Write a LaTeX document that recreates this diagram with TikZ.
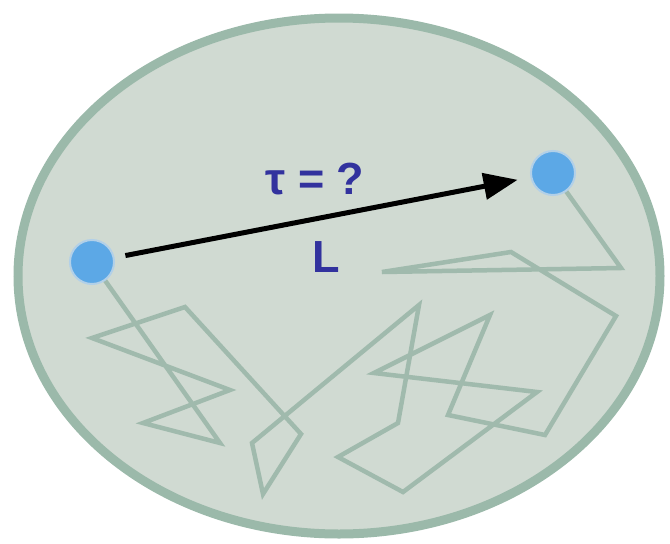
\documentclass[tikz,border=0pt]{standalone}
\usepackage{fontspec}
\setmainfont{Liberation Sans}
\usetikzlibrary{arrows.meta}
\definecolor{ellfill}{RGB}{208,218,210}
\definecolor{ellborder}{RGB}{155,185,170}
\definecolor{walk}{RGB}{160,186,173}
\definecolor{dotblue}{RGB}{92,168,230}
\definecolor{dothalo}{RGB}{178,208,232}
\definecolor{labelblue}{RGB}{50,50,158}
\begin{document}
\begin{tikzpicture}[x=1pt,y=-1pt,
  dotnode/.style={circle,fill=dotblue,draw=dothalo,line width=2pt,minimum size=44pt,inner sep=0pt},
  walkline/.style={draw=walk,line width=4.5pt,line join=miter},
  lbl/.style={text=labelblue,font=\fontsize{45}{52}\selectfont\bfseries,inner sep=0pt},
  bigarrow/.style={-{Triangle[length=34pt,width=26pt]},line width=5pt,black}]
\useasboundingbox (0,0) rectangle (670,544);
\draw[fill=ellfill,draw=ellborder,line width=9pt] (339,276) ellipse [x radius=321pt,y radius=258pt];
\coordinate (pa) at (92,262);
\coordinate (pb) at (553,173);
\draw[walkline] (pa) -- (220,443) -- (143,423) -- (230,390) -- (92,338) -- (185,307)
  -- (301,434) -- (263,494) -- (252,443) -- (419,305) -- (398,423) -- (338,457)
  -- (403,492) -- (537,392) -- (374,373) -- (490,315) -- (448,415) -- (545,435)
  -- (616,316) -- (511,252) -- (382,272) -- (621,268) -- (pb);
\node[dotnode] (a) at (pa) {};
\node[dotnode] (b) at (pb) {};
\draw[bigarrow,shorten <=34pt,shorten >=36pt] (a.center) -- (b.center);
\node[lbl] (tau) at (315,179) {τ = ?};
\node[lbl] (len) at (326,257) {L};
\end{tikzpicture}
\end{document}
